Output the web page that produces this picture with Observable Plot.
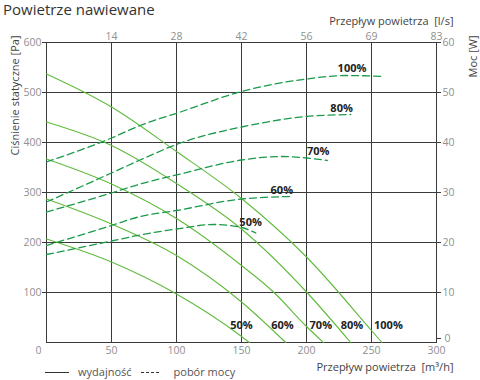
<!DOCTYPE html>
<html>
<head>
<meta charset="utf-8">
<script src="https://cdn.jsdelivr.net/npm/d3@7"></script>
<script src="https://cdn.jsdelivr.net/npm/@observablehq/plot@0.6"></script>
<style>
  html, body { margin: 0; padding: 0; background: #fff; }
  #wrap { position: relative; width: 480px; height: 380px; font-family: "Open Sans", sans-serif; }
  #title { position: absolute; left: 3px; top: 0px; font-size: 15px; line-height: 18px; color: #333; white-space: nowrap; }
  #legend { position: absolute; left: 45px; top: 364px; font-size: 11px; color: #555; display: flex; align-items: center; white-space: nowrap; }
  #legend svg { display: block; }
</style>
</head>
<body>
<div id="wrap">
  <div id="chart"></div>
  <div id="title">Powietrze nawiewane</div>
  <div id="legend">
    <svg width="26" height="10"><line x1="0" y1="5.5" x2="24" y2="5.5" stroke="#333" stroke-width="1"/></svg>
    <span style="margin-left:7px">wydajność</span>
    <svg width="22" height="10" style="margin-left:9px"><line x1="0" y1="5.5" x2="18" y2="5.5" stroke="#333" stroke-width="1" stroke-dasharray="3,2"/></svg>
    <span style="margin-left:11px">pobór mocy</span>
  </div>
</div>
<script>
// axis ticks
const flowTicks = [0, 50, 100, 150, 200, 250, 300];           // m³/h
const lsTickLabels = [14, 28, 42, 56, 69, 83];                 // l/s at 50..300 m³/h
const pressureTicks = [0, 100, 200, 300, 400, 500, 600];       // Pa
const powerTickLabels = [0, 10, 20, 30, 40, 50, 60];           // W

// performance curves: [flow m³/h, static pressure Pa]
const perf100 = [[0,537],[50,471],[100,382],[150,288],[200,171],[250,24],[258,0]];
const perf80  = [[0,441],[50,394],[100,318],[150,227],[200,101],[234,0]];
const perf70  = [[0,367],[50,317],[100,248],[150,154],[175,100],[200,32],[213,0]];
const perf60  = [[0,287],[50,237],[100,174],[150,81],[184,0]];
const perf50  = [[0,207],[50,161],[100,97],[149,14],[156,0]];

// power curves: [flow m³/h, power W]
const pow100 = [[0,36.1],[50,40.9],[72,43.4],[103,46.1],[150,50.2],[200,52.7],[231,53.4],[259,53.2]];
const pow80  = [[0,28.1],[50,33.9],[72,36.5],[103,39.9],[150,43.1],[200,45.2],[234,45.6]];
const pow70  = [[0,26.1],[50,29.9],[72,31.7],[103,33.7],[150,36.5],[180,37.2],[200,36.9],[216,36.4]];
const pow60  = [[0,19.4],[50,23.4],[72,25.2],[100,26.4],[150,28.7],[188,29.2]];
const pow50  = [[0,17.6],[50,20.3],[72,21.5],[100,22.7],[129,23.6],[150,23.0],[161,21.9]];

// curve labels: [flow, pressure-axis value, text]
const topLabels = [[235,548,"100%"],[227,468,"80%"],[209,382,"70%"],[181,304,"60%"],[157,240,"50%"]];
const bottomLabels = [[150,34,"50%"],[181.5,34,"60%"],[211,34,"70%"],[235,34,"80%"],[263,34,"100%"]];

const perfSeries = {"100%": perf100, "80%": perf80, "70%": perf70, "60%": perf60, "50%": perf50};
const powSeries = {"100%": pow100, "80%": pow80, "70%": pow70, "60%": pow60, "50%": pow50};

const perfData = Object.entries(perfSeries).flatMap(([s, arr]) => arr.map(([q, p]) => ({s, q, p})));
const powData = Object.entries(powSeries).flatMap(([s, arr]) => arr.map(([q, w]) => ({s, q, y: w * 10})));
const labelData = [...topLabels, ...bottomLabels].map(([q, p, t]) => ({q, p, t}));

const lsMap = new Map(flowTicks.slice(1).map((d, i) => [d, lsTickLabels[i]]));
const wMap = new Map(pressureTicks.map((d, i) => [d, powerTickLabels[i]]));

const gridColor = "#3a3a3a";
const tickText = "#8f8f8f";

const chart = Plot.plot({
  width: 480,
  height: 380,
  marginLeft: 46,
  marginRight: 44,
  marginTop: 42,
  marginBottom: 38,
  style: {fontFamily: "Open Sans, sans-serif", fontSize: "10.5px", background: "#fff"},
  x: {domain: [0, 300]},
  y: {domain: [0, 600]},
  marks: [
    Plot.gridX(flowTicks, {stroke: gridColor, strokeOpacity: 1}),
    Plot.gridY(pressureTicks, {stroke: gridColor, strokeOpacity: 1}),
    Plot.frame({stroke: gridColor}),
    Plot.axisX({anchor: "bottom", ticks: flowTicks.slice(1), tickSize: 0, tickPadding: 4, label: null, fill: tickText}),
    Plot.axisX({anchor: "bottom", ticks: [0], tickSize: 0, tickPadding: 4, label: null, fill: tickText, dx: -8}),
    Plot.axisX({anchor: "top", ticks: flowTicks.slice(1), tickFormat: d => lsMap.get(d), tickSize: 0, tickPadding: 3, label: null, fill: tickText}),
    Plot.axisY({anchor: "left", ticks: pressureTicks.slice(1), tickSize: 4, tickPadding: 1, label: null, fill: tickText, stroke: gridColor}),
    Plot.axisY({anchor: "right", ticks: pressureTicks.slice(1), tickFormat: d => wMap.get(d), tickSize: 4, tickPadding: 2, label: null, fill: tickText, stroke: gridColor}),
    Plot.axisY({anchor: "right", ticks: [0], tickFormat: d => wMap.get(d), tickSize: 4, tickPadding: 4, label: null, fill: tickText, stroke: gridColor, dy: -4}),
    Plot.line(perfData, {x: "q", y: "p", z: "s", curve: "monotone-x", stroke: "#5fbb3c", strokeWidth: 1.1}),
    Plot.line(powData, {x: "q", y: "y", z: "s", curve: "monotone-x", stroke: "#1a9a4a", strokeWidth: 1.3, strokeDasharray: "7,4"}),
    Plot.text(labelData, {x: "q", y: "p", text: "t", fontWeight: "bold", fontSize: 11, fill: "#222"}),
    Plot.text(["Przepływ powietrza  [m³/h]"], {frameAnchor: "bottom-right", textAnchor: "end", dx: 17, dy: 28, fontSize: 11, fill: "#444"}),
    Plot.text(["Przepływ powietrza  [l/s]"], {frameAnchor: "top-right", textAnchor: "end", dx: 17, dy: -25, fontSize: 11, fill: "#444"}),
    Plot.text(["Ciśnienie statyczne [Pa]"], {frameAnchor: "top-left", textAnchor: "end", rotate: -90, dx: -35, dy: -7, fontSize: 11, fill: "#444"}),
    Plot.text(["Moc [W]"], {frameAnchor: "top-right", textAnchor: "end", rotate: -90, dx: 33, dy: -7, fontSize: 11, fill: "#444"})
  ]
});
document.getElementById("chart").appendChild(chart);
</script>
</body>
</html>
